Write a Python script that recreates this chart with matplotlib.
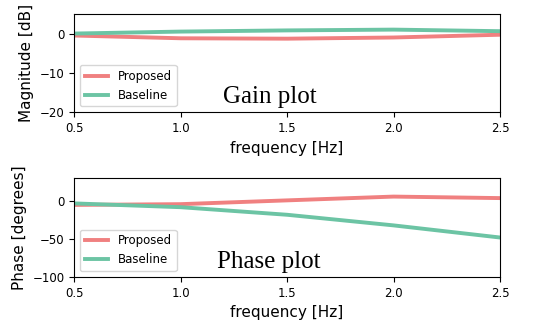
import matplotlib
matplotlib.use("Agg")
import matplotlib.pyplot as plt

freq = [0.5, 1.0, 1.5, 2.0, 2.5]
gain_proposed = [-0.5, -1.2, -1.3, -1.0, -0.3]
gain_baseline = [0.0, 0.5, 0.8, 1.0, 0.6]
phase_proposed = [-5, -4, 1, 6, 4]
phase_baseline = [-3, -8, -18, -32, -48]
xticks = [0.5, 1.0, 1.5, 2.0, 2.5]

red = "#f08080"
green = "#6cc4a4"

fig, (ax1, ax2) = plt.subplots(2, 1, figsize=(5.58, 3.22), dpi=100)

ax1.plot(freq, gain_proposed, color=red, lw=2.8, label="Proposed")
ax1.plot(freq, gain_baseline, color=green, lw=2.8, label="Baseline")
ax1.set_xlim(0.5, 2.5)
ax1.set_ylim(-20, 5)
ax1.set_ylabel("Magnitude [dB]", fontsize=11)
ax1.legend(loc="lower left", fontsize=8.5)
ax1.text(1.2, -17.5, "Gain plot", family="Liberation Serif", fontsize=18)

ax2.plot(freq, phase_proposed, color=red, lw=2.8, label="Proposed")
ax2.plot(freq, phase_baseline, color=green, lw=2.8, label="Baseline")
ax2.set_xlim(0.5, 2.5)
ax2.set_ylim(-100, 30)
ax2.set_ylabel("Phase [degrees]", fontsize=11)
ax2.legend(loc="lower left", fontsize=8.5)
ax2.text(1.17, -88, "Phase plot", family="Liberation Serif", fontsize=18)

for ax in (ax1, ax2):
    ax.set_xticks(xticks)
    ax.set_xlabel("frequency [Hz]", fontsize=11)
    ax.tick_params(labelsize=8.5)

fig.subplots_adjust(left=0.133, right=0.896, top=0.957, bottom=0.14, hspace=0.67)
fig.savefig("out.png")
